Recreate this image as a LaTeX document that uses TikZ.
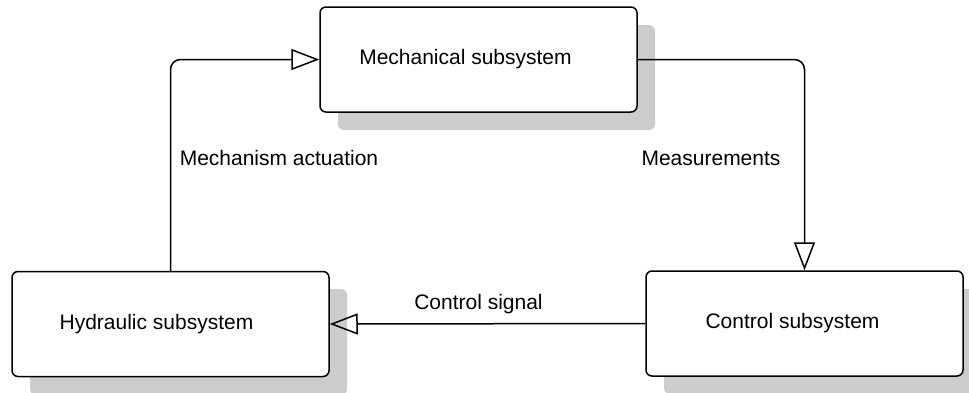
\documentclass[tikz,border=0pt]{standalone}
\usepackage{fontspec}
\setmainfont{Liberation Sans}
\usetikzlibrary{arrows.meta}
\begin{document}
\begin{tikzpicture}[x=1pt,y=-1pt,
  every node/.style={font=\fontsize{21}{25}\selectfont},
  subsys/.style={draw=black, line width=1.5pt, fill=white, rounded corners=6pt,
    minimum width=317pt, minimum height=105pt, inner sep=0pt},
  shade/.style={fill=black!20, rounded corners=6pt},
  flow/.style={line width=1.5pt, rounded corners=10pt,
    -{Triangle[open, length=28pt, width=21pt, line width=1.5pt]}},
  tag/.style={inner sep=0pt}]
\useasboundingbox (0,0) rectangle (969,392);
\clip (0,0) rectangle (969,392);

% drop shadows behind the three blocks
\fill[shade] (338,25) rectangle (655,130);
\fill[shade] (30,289) rectangle (347,395);
\fill[shade] (664,289) rectangle (981,394);

% blocks
\node[subsys, label={[xshift=-13pt]center:Mechanical subsystem}] (mech) at (478.5,59.5) {};
\node[subsys, label={[xshift=-14pt]center:Hydraulic subsystem}] (hyd) at (170.5,324) {};
\node[subsys, label={[xshift=-12pt]center:Control subsystem}] (ctrl) at (804.5,323.5) {};

% signal paths
\draw[flow] (hyd.north) |- (mech.west);
\draw[flow] (mech.east) -| (ctrl.north);
\draw[flow] (ctrl.west) -- (hyd.east);

% path labels
\node[tag] (lact) at (279,158) {Mechanism actuation};
\node[tag] (lmeas) at (711,158) {Measurements};
\node[tag] (lsig) at (478.5,304) {Control signal};
\end{tikzpicture}
\end{document}
